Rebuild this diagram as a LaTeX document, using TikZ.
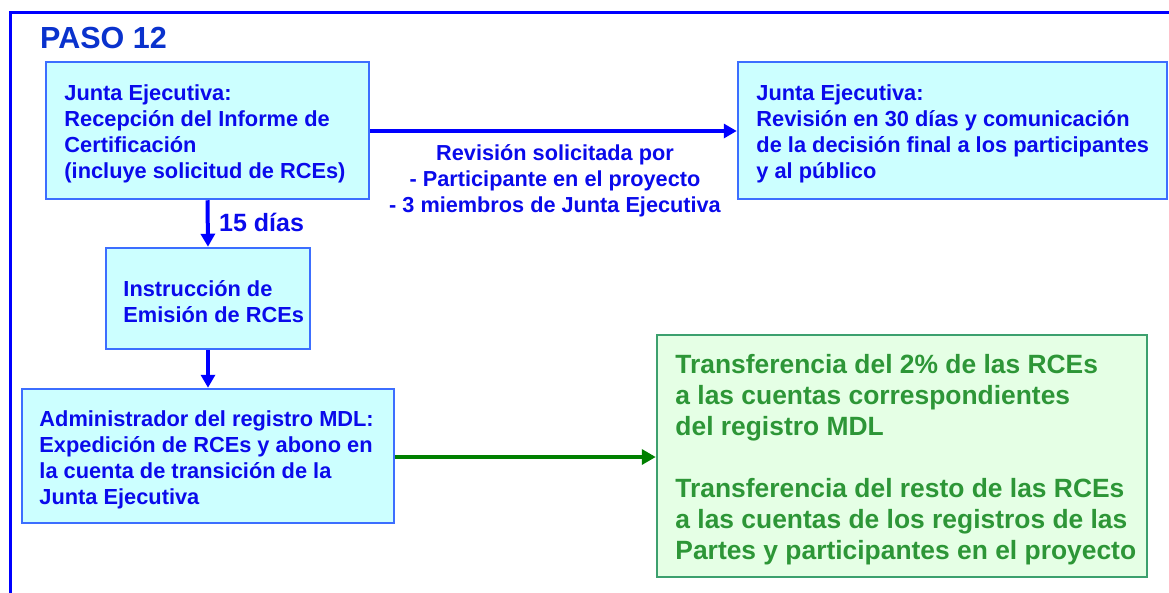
\documentclass[tikz,border=0pt]{standalone}
\usepackage{fontspec}
\setmainfont{Liberation Sans}
\usetikzlibrary{arrows.meta}
\definecolor{cyanfill}{RGB}{204,255,255}
\definecolor{boxborder}{RGB}{60,110,255}
\definecolor{txtblue}{RGB}{10,10,235}
\definecolor{titleblue}{RGB}{10,50,205}
\definecolor{arrblue}{RGB}{0,0,255}
\definecolor{greenfill}{RGB}{229,255,229}
\definecolor{greenborder}{RGB}{60,160,110}
\definecolor{greentxt}{RGB}{45,150,55}
\definecolor{arrgreen}{RGB}{0,128,0}
\begin{document}
\begin{tikzpicture}[x=1pt,y=-1pt,
  bluebox/.style={draw=boxborder,fill=cyanfill,line width=2.5pt,inner sep=0pt},
  greenbox/.style={draw=greenborder,fill=greenfill,line width=2.5pt,inner sep=0pt},
  bluetxt/.style={align=left,anchor=west,inner sep=0pt,yshift=-3.5pt,
    text=txtblue,font=\fontsize{21.8}{26}\selectfont\bfseries},
  greentext/.style={align=left,anchor=west,inner sep=0pt,yshift=-4pt,
    text=greentxt,font=\fontsize{26.4}{31}\selectfont\bfseries},
  bluearrow/.style={draw=arrblue,line width=4pt,-{Triangle[length=13pt,width=14pt]}},
  greenarrow/.style={draw=arrgreen,line width=4pt,-{Triangle[length=14pt,width=15pt]}},
  lbl/.style={text=txtblue,font=\fontsize{21.7}{26}\selectfont\bfseries,align=center}]
\useasboundingbox (0,0) rectangle (1169,592);
\draw[arrblue,line width=3pt] (10,600) -- (10,12) -- (1180,12);
\node[text=titleblue,font=\fontsize{30.5}{34}\selectfont\bfseries,anchor=west,inner sep=0pt] (title) at (40,38) {PASO 12};
\node[bluebox,minimum width=323pt,minimum height=137pt] (b1) at (207.5,130.5) {};
\node[bluetxt] (t1) at ([xshift=19.5pt]b1.west)
 {Junta Ejecutiva:\\Recepción del Informe de\\Certificación\\(incluye solicitud de RCEs)};
\node[bluebox,minimum width=429pt,minimum height=137pt] (b2) at (952.5,130.5) {};
\node[bluetxt] (t2) at ([xshift=19.5pt]b2.west)
 {Junta Ejecutiva:\\Revisión en 30 días y comunicación\\de la decisión final a los participantes\\y al público};
\node[bluebox,minimum width=204pt,minimum height=101pt] (b3) at (208,298.5) {};
\node[bluetxt] (t3) at ([xshift=18.5pt]b3.west)
 {Instrucción de\\Emisión de RCEs};
\node[bluebox,minimum width=372pt,minimum height=134pt] (b4) at (208,456) {};
\node[bluetxt] (t4) at ([xshift=18.5pt]b4.west)
 {Administrador del registro MDL:\\Expedición de RCEs y abono en\\la cuenta de transición de la\\Junta Ejecutiva};
\node[greenbox,minimum width=490pt,minimum height=242pt] (g) at (902,456) {};
\node[greentext] (tg) at ([xshift=19.5pt]g.west)
 {Transferencia del 2\% de las RCEs\\a las cuentas correspondientes\\del registro MDL\\[31pt]Transferencia del resto de las RCEs\\a las cuentas de los registros de las\\Partes y participantes en el proyecto};
\draw[bluearrow] (b1.east |- 0,131) -- (b2.west |- 0,131);
\node[lbl] (rev) at (555,180.5) {Revisión solicitada por\\- Participante en el proyecto\\- 3 miembros de Junta Ejecutiva};
\draw[bluearrow] (b1.south) -- (b3.north);
\node[text=txtblue,font=\fontsize{25}{28}\selectfont\bfseries,anchor=west,inner sep=0pt] (d15) at (219,222) {15 días};
\draw[bluearrow] (b3.south) -- (b4.north);
\draw[greenarrow] (b4.east |- 0,457) -- (g.west |- 0,457);
\end{tikzpicture}
\end{document}
